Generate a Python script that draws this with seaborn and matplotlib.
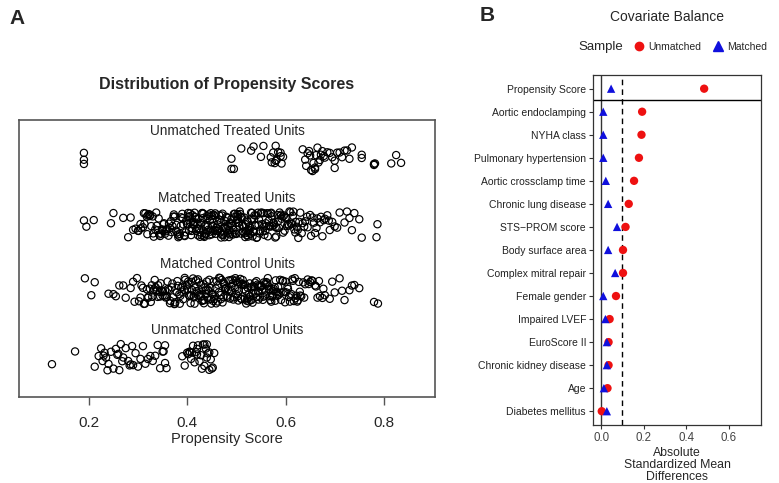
import numpy as np
import pandas as pd
import matplotlib
matplotlib.use("Agg")
import matplotlib.pyplot as plt
import seaborn as sns
from matplotlib.lines import Line2D

# ---------------- data: panel A ----------------
groups = ["Unmatched Treated Units", "Matched Treated Units",
          "Matched Control Units", "Unmatched Control Units"]

unmatched_treated = [0.19, 0.19, 0.19, 0.49, 0.49, 0.495, 0.51, 0.53, 0.535, 0.55, 0.555,
                     0.57, 0.572, 0.575, 0.578, 0.58, 0.58, 0.582, 0.585, 0.59, 0.59, 0.592, 0.595,
                     0.635, 0.64, 0.642, 0.645, 0.648, 0.65, 0.652, 0.655, 0.657, 0.66, 0.66, 0.662,
                     0.665, 0.667, 0.67, 0.672, 0.675, 0.678, 0.68, 0.685, 0.69, 0.695, 0.70, 0.70,
                     0.705, 0.71, 0.715, 0.72, 0.725, 0.73, 0.735, 0.755, 0.755, 0.78, 0.78, 0.782,
                     0.815, 0.825, 0.835]

matched_treated = [0.19, 0.195, 0.21, 0.245, 0.25, 0.27, 0.28, 0.285, 0.29, 0.295, 0.30, 0.305,
                   0.31, 0.312, 0.315, 0.318, 0.32, 0.322, 0.325, 0.327, 0.33, 0.332, 0.335, 0.338,
                   0.34, 0.342, 0.345, 0.347, 0.35, 0.352, 0.355, 0.357, 0.36, 0.362, 0.365, 0.367,
                   0.37, 0.372, 0.375, 0.377, 0.38, 0.382, 0.385, 0.387, 0.39, 0.392, 0.395, 0.397,
                   0.40, 0.401, 0.403, 0.405, 0.406, 0.408, 0.41, 0.411, 0.413, 0.415, 0.416, 0.418,
                   0.42, 0.421, 0.423, 0.425, 0.426, 0.428, 0.43, 0.431, 0.433, 0.435, 0.436, 0.438,
                   0.44, 0.441, 0.443, 0.445, 0.446, 0.448, 0.45, 0.451, 0.453, 0.455, 0.456, 0.458,
                   0.46, 0.461, 0.463, 0.465, 0.466, 0.468, 0.47, 0.471, 0.473, 0.475, 0.476, 0.478,
                   0.48, 0.481, 0.483, 0.485, 0.486, 0.488, 0.49, 0.491, 0.493, 0.495, 0.496, 0.498,
                   0.50, 0.501, 0.503, 0.505, 0.506, 0.508, 0.51, 0.512, 0.514, 0.516, 0.518, 0.52,
                   0.522, 0.524, 0.526, 0.528, 0.53, 0.532, 0.534, 0.536, 0.538, 0.54, 0.542, 0.545,
                   0.547, 0.55, 0.552, 0.555, 0.557, 0.56, 0.562, 0.565, 0.567, 0.57, 0.572, 0.575,
                   0.577, 0.58, 0.582, 0.585, 0.587, 0.59, 0.592, 0.595, 0.597, 0.60, 0.602, 0.605,
                   0.608, 0.61, 0.613, 0.615, 0.618, 0.62, 0.623, 0.625, 0.628, 0.63, 0.635, 0.64,
                   0.645, 0.65, 0.655, 0.66, 0.665, 0.67, 0.675, 0.68, 0.685, 0.69, 0.70, 0.705,
                   0.71, 0.72, 0.725, 0.73, 0.735, 0.74, 0.75, 0.755, 0.785, 0.787,
                   0.301, 0.306, 0.313, 0.319, 0.324, 0.331, 0.337, 0.343, 0.349, 0.353, 0.358,
                   0.363, 0.368, 0.373, 0.378, 0.381, 0.384, 0.388, 0.391, 0.394, 0.398, 0.402,
                   0.404, 0.407, 0.409, 0.412, 0.414, 0.417, 0.419, 0.422, 0.424, 0.427, 0.429,
                   0.432, 0.434, 0.437, 0.439, 0.442, 0.444, 0.447, 0.449, 0.452, 0.454, 0.457,
                   0.459, 0.462, 0.464, 0.467, 0.469, 0.472, 0.474, 0.477, 0.479, 0.482, 0.484,
                   0.487, 0.489, 0.492, 0.494, 0.497, 0.499, 0.502, 0.504, 0.507, 0.509, 0.511,
                   0.513, 0.515, 0.517, 0.519, 0.521, 0.523, 0.525, 0.527, 0.529, 0.531, 0.533,
                   0.535, 0.537, 0.539, 0.541, 0.544, 0.546, 0.549, 0.551, 0.554, 0.556, 0.559,
                   0.561, 0.564, 0.566, 0.569, 0.571, 0.574, 0.576, 0.579, 0.581, 0.584, 0.588,
                   0.591, 0.594, 0.598, 0.603, 0.607, 0.611, 0.616, 0.621, 0.626, 0.633, 0.638,
                   0.644, 0.652, 0.658, 0.663, 0.672, 0.678, 0.688, 0.695]

matched_control = [0.192, 0.205, 0.212, 0.24, 0.25, 0.255, 0.262, 0.27, 0.275, 0.285, 0.29, 0.293,
                   0.298, 0.302, 0.307, 0.31, 0.314, 0.318, 0.321, 0.324, 0.326, 0.329, 0.331, 0.334,
                   0.336, 0.339, 0.341, 0.344, 0.346, 0.349, 0.351, 0.354, 0.356, 0.359, 0.361, 0.364,
                   0.366, 0.369, 0.371, 0.374, 0.376, 0.379, 0.381, 0.384, 0.386, 0.389, 0.391, 0.394,
                   0.396, 0.399, 0.402, 0.404, 0.407, 0.409, 0.412, 0.414, 0.417, 0.419, 0.422, 0.424,
                   0.427, 0.429, 0.432, 0.434, 0.437, 0.439, 0.442, 0.444, 0.447, 0.449, 0.452, 0.454,
                   0.457, 0.459, 0.462, 0.464, 0.467, 0.469, 0.472, 0.474, 0.477, 0.479, 0.482, 0.484,
                   0.487, 0.489, 0.492, 0.494, 0.497, 0.499, 0.502, 0.504, 0.507, 0.509, 0.511, 0.513,
                   0.515, 0.517, 0.519, 0.521, 0.523, 0.525, 0.527, 0.529, 0.531, 0.533, 0.535, 0.537,
                   0.539, 0.541, 0.544, 0.546, 0.549, 0.551, 0.554, 0.556, 0.559, 0.561, 0.564, 0.566,
                   0.569, 0.571, 0.574, 0.576, 0.579, 0.581, 0.584, 0.586, 0.589, 0.591, 0.594, 0.596,
                   0.599, 0.601, 0.604, 0.607, 0.609, 0.612, 0.614, 0.617, 0.619, 0.622, 0.624, 0.627,
                   0.629, 0.632, 0.636, 0.64, 0.645, 0.65, 0.655, 0.66, 0.665, 0.67, 0.675, 0.68,
                   0.69, 0.695, 0.70, 0.71, 0.715, 0.72, 0.73, 0.735, 0.74, 0.75, 0.78, 0.788,
                   0.305, 0.312, 0.32, 0.328, 0.333, 0.34, 0.345, 0.35, 0.355, 0.36, 0.365, 0.37,
                   0.375, 0.38, 0.385, 0.388, 0.392, 0.395, 0.40, 0.403, 0.405, 0.408, 0.41, 0.413,
                   0.415, 0.418, 0.42, 0.423, 0.425, 0.428, 0.43, 0.433, 0.435, 0.438, 0.44, 0.443,
                   0.445, 0.448, 0.45, 0.453, 0.455, 0.458, 0.46, 0.463, 0.465, 0.468, 0.47, 0.473,
                   0.475, 0.478, 0.48, 0.483, 0.485, 0.488, 0.49, 0.493, 0.495, 0.498, 0.50, 0.503,
                   0.505, 0.508, 0.51, 0.513, 0.515, 0.518, 0.52, 0.523, 0.525, 0.528, 0.53, 0.533,
                   0.535, 0.538, 0.54, 0.543, 0.545, 0.548, 0.55, 0.553, 0.555, 0.558, 0.56, 0.563,
                   0.565, 0.568, 0.57, 0.573, 0.575, 0.578, 0.58, 0.583, 0.585, 0.59, 0.595, 0.60,
                   0.605, 0.61, 0.615, 0.62, 0.625, 0.63, 0.638, 0.647, 0.653, 0.662, 0.668, 0.677]

unmatched_control = [0.125, 0.172, 0.212, 0.22, 0.225, 0.228, 0.23, 0.232, 0.235, 0.238, 0.24,
                     0.245, 0.25, 0.255, 0.258, 0.26, 0.262, 0.265, 0.268, 0.27, 0.275, 0.28,
                     0.283, 0.285, 0.288, 0.29, 0.295, 0.30, 0.305, 0.31, 0.315, 0.32, 0.325,
                     0.33, 0.335, 0.34, 0.345, 0.35, 0.352, 0.355, 0.355, 0.358, 0.39, 0.395,
                     0.40, 0.402, 0.405, 0.405, 0.408, 0.41, 0.412, 0.415, 0.418, 0.42, 0.42,
                     0.422, 0.425, 0.428, 0.43, 0.432, 0.435, 0.435, 0.438, 0.44, 0.44, 0.442,
                     0.445, 0.445, 0.448, 0.45, 0.452, 0.455]

ps_ticks = [0.2, 0.4, 0.6, 0.8]

# ---------------- data: panel B ----------------
covariates = ["Propensity Score", "Aortic endoclamping", "NYHA class", "Pulmonary hypertension",
              "Aortic crossclamp time", "Chronic lung disease", "STS\u2212PROM score",
              "Body surface area", "Complex mitral repair", "Female gender", "Impaired LVEF",
              "EuroScore II", "Chronic kidney disease", "Age", "Diabetes mellitus"]
smd_unmatched = [0.485, 0.193, 0.19, 0.178, 0.155, 0.13, 0.115, 0.103, 0.103, 0.07, 0.04,
                 0.035, 0.035, 0.03, 0.003]
smd_matched = [0.047, 0.01, 0.01, 0.01, 0.022, 0.033, 0.075, 0.033, 0.066, 0.01, 0.02,
               0.027, 0.027, 0.013, 0.027]
smd_ticks = [0.0, 0.2, 0.4, 0.6]
threshold = 0.1

# ---------------- figure ----------------
sns.set_theme(style="white")
plt.rcParams["font.family"] = ["Liberation Sans", "DejaVu Sans"]
np.random.seed(3)

fig = plt.figure(figsize=(7.79, 4.83), dpi=100)

# ---- Panel A ----
axA = fig.add_axes([0.0244, 0.178, 0.534, 0.5736])
dfA = pd.DataFrame({
    "group": ([groups[0]] * len(unmatched_treated) + [groups[1]] * len(matched_treated)
              + [groups[2]] * len(matched_control) + [groups[3]] * len(unmatched_control)),
    "score": unmatched_treated + matched_treated + matched_control + unmatched_control,
})
sns.stripplot(data=dfA, x="score", y="group", order=groups, orient="h", jitter=0.2,
              size=5.2, linewidth=0.85, color="black", ax=axA)
for coll in axA.collections:
    coll.set_facecolor("none")
    coll.set_edgecolor("black")
    coll.set_linewidth(0.85)

axA.set_ylim(3.6, -0.58)
axA.set_xlim(0.058, 0.904)
axA.set_yticks([])
axA.set_ylabel("")
axA.set_xticks(ps_ticks)
axA.set_xticklabels([f"{t:.1f}" for t in ps_ticks], fontsize=11)
axA.tick_params(axis="x", bottom=True, length=6, width=1.0, color="#555555", pad=8)
axA.set_xlabel("Propensity Score", fontsize=10.5, labelpad=1)
for sp in axA.spines.values():
    sp.set_visible(True)
    sp.set_color("#555555")
    sp.set_linewidth(1.2)
for i, g in enumerate(groups):
    axA.text(0.481, i - 0.41, g, ha="center", va="center", fontsize=9.8)
fig.text(0.291, 0.826, "Distribution of Propensity Scores", ha="center", va="center",
         fontsize=11.5, fontweight="bold")
fig.text(0.012, 0.962, "A", ha="left", va="center", fontsize=15, fontweight="bold")

# ---- Panel B ----
axB = fig.add_axes([0.7613, 0.12, 0.2157, 0.725])
dfB = pd.DataFrame({
    "Covariate": covariates + covariates,
    "SMD": smd_unmatched + smd_matched,
    "Sample": ["Unmatched"] * len(covariates) + ["Matched"] * len(covariates),
})
sns.scatterplot(data=dfB, x="SMD", y="Covariate", hue="Sample", style="Sample",
                hue_order=["Unmatched", "Matched"], style_order=["Unmatched", "Matched"],
                palette={"Unmatched": "#ee1111", "Matched": "#1010dd"},
                markers={"Unmatched": "o", "Matched": "^"},
                s=36, linewidth=0, ax=axB, zorder=3)
if axB.get_legend() is not None:
    axB.get_legend().remove()

axB.set_ylim(len(covariates) - 0.4, -0.6)
axB.set_xlim(-0.038, 0.753)
axB.axvline(0, color="#333333", lw=1.0, zorder=1)
axB.axvline(threshold, color="black", lw=1.0, ls=(0, (4, 3)), zorder=1)
axB.axhline(0.5, color="black", lw=1.0, zorder=1)
axB.set_yticks(range(len(covariates)))
axB.set_yticklabels(covariates, fontsize=7.5, color="#222222")
axB.set_xticks(smd_ticks)
axB.set_xticklabels([f"{t:.1f}" for t in smd_ticks], fontsize=8.3, color="#444444")
axB.tick_params(axis="both", left=True, bottom=True, length=3, width=0.8, color="#333333", pad=2)
axB.set_ylabel("")
axB.set_xlabel("Absolute\nStandardized Mean\nDifferences", fontsize=8.8, labelpad=2,
               linespacing=1.0)
for sp in axB.spines.values():
    sp.set_visible(True)
    sp.set_color("#333333")
    sp.set_linewidth(0.9)

fig.text(0.856, 0.965, "Covariate Balance", ha="center", va="center", fontsize=10)
fig.text(0.742, 0.903, "Sample", ha="left", va="center", fontsize=9.5)
leg_handles = [Line2D([], [], marker="o", ls="", color="#ee1111", markersize=6),
               Line2D([], [], marker="^", ls="", color="#1010dd", markersize=6.5)]
fig.legend(leg_handles, ["Unmatched", "Matched"], loc="center left",
           bbox_to_anchor=(0.805, 0.903), ncol=2, frameon=False, fontsize=7.5,
           handletextpad=0.3, columnspacing=1.0, handlelength=1.2, borderpad=0)
fig.text(0.616, 0.968, "B", ha="left", va="center", fontsize=15, fontweight="bold")

fig.savefig("out.png", dpi=100)
